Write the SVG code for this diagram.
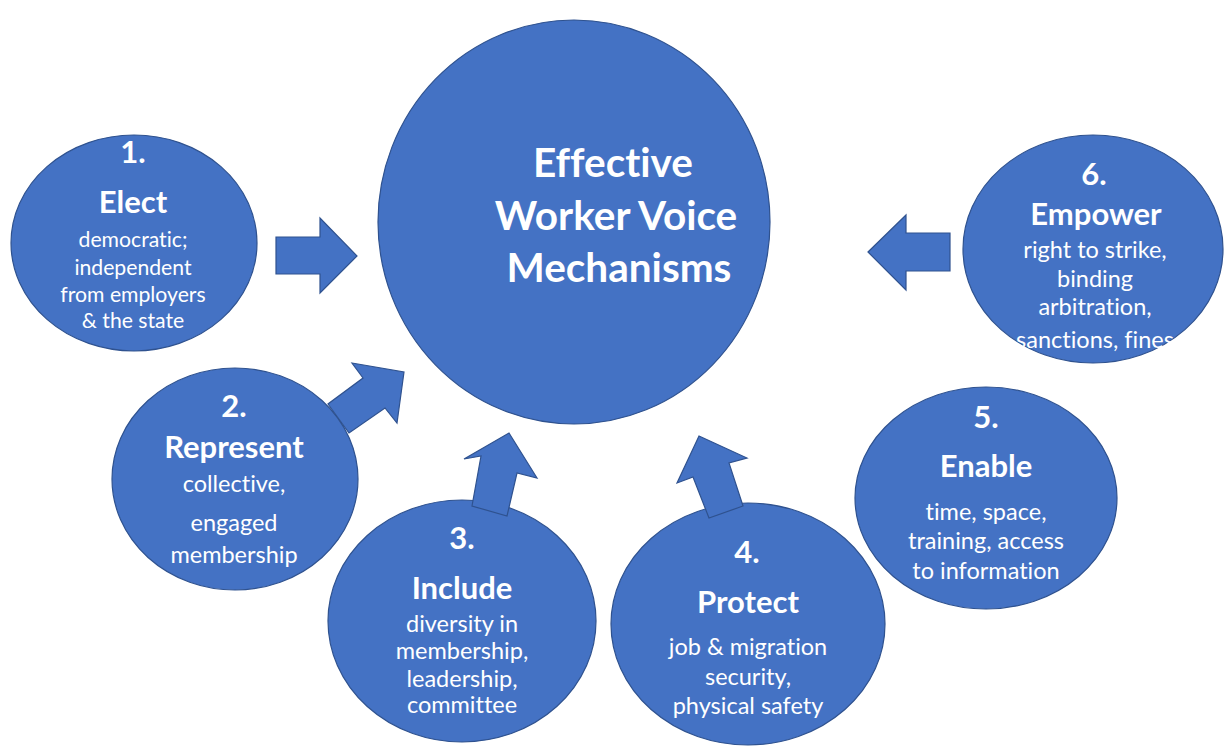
<svg xmlns="http://www.w3.org/2000/svg" width="1224" height="748" viewBox="0 0 1224 748">
<style>
.c{fill:#4472C4;stroke:#2F528F;stroke-width:1.2}
.a{fill:#4472C4;stroke:#2F528F;stroke-width:1.2;stroke-linejoin:miter}
text{font-family:Lato,"Open Sans","Liberation Sans",sans-serif;fill:#FFFFFF;text-anchor:middle;font-variant-ligatures:none}
.t{font-weight:bold;font-size:31px}
.b{font-size:23.5px}
.s{font-size:21.2px}
.m{font-weight:bold;font-size:40.5px}
</style>
<rect width="1224" height="748" fill="#FFFFFF"/>
<g id="center">
<ellipse class="c" cx="574" cy="222" rx="196" ry="202"/>
<text class="m" x="613" y="177">Effective</text>
<text class="m" x="616" y="230">Worker Voice</text>
<text class="m" x="619" y="282">Mechanisms</text>
</g>
<g id="n1">
<ellipse class="c" cx="134" cy="243" rx="123" ry="108"/>
<text class="t" x="133" y="163">1.</text>
<text class="t" x="133" y="213">Elect</text>
<text class="s" x="133" y="247">democratic;</text>
<text class="s" x="133" y="275">independent</text>
<text class="s" x="133" y="302">from employers</text>
<text class="s" x="133" y="328">&amp; the state</text>
</g>
<g id="n2">
<ellipse class="c" cx="235" cy="479" rx="123" ry="111"/>
<text class="t" x="234" y="417">2.</text>
<text class="t" x="234" y="458">Represent</text>
<text class="b" x="234" y="492">collective,</text>
<text class="b" x="234" y="531">engaged</text>
<text class="b" x="234" y="563">membership</text>
</g>
<g id="n3">
<ellipse class="c" cx="462" cy="621" rx="134" ry="121"/>
<text class="t" x="462" y="549">3.</text>
<text class="t" x="462" y="599">Include</text>
<text class="b" x="462" y="632">diversity in</text>
<text class="b" x="462" y="659">membership,</text>
<text class="b" x="462" y="687">leadership,</text>
<text class="b" x="462" y="713">committee</text>
</g>
<g id="n4">
<ellipse class="c" cx="748" cy="624" rx="137" ry="121"/>
<text class="t" x="747" y="563">4.</text>
<text class="t" x="748" y="613">Protect</text>
<text class="b" x="748" y="655">job &amp; migration</text>
<text class="b" x="748" y="685">security,</text>
<text class="b" x="748" y="714">physical safety</text>
</g>
<g id="n5">
<ellipse class="c" cx="986" cy="498" rx="131" ry="111"/>
<text class="t" x="986" y="428">5.</text>
<text class="t" x="986" y="477">Enable</text>
<text class="b" x="986" y="520">time, space,</text>
<text class="b" x="986" y="549">training, access</text>
<text class="b" x="986" y="579">to information</text>
</g>
<g id="n6">
<ellipse class="c" cx="1093" cy="249" rx="130" ry="114"/>
<text class="t" x="1094" y="185">6.</text>
<text class="t" x="1096" y="225">Empower</text>
<text class="b" x="1095" y="258">right to strike,</text>
<text class="b" x="1095" y="287">binding</text>
<text class="b" x="1095" y="315">arbitration,</text>
<text class="b" x="1095" y="348">sanctions, fines</text>
</g>
<g id="connectors">
<polygon class="a" points="276,237 320,237 320,218 357,256 320,293 320,274 276,274"/>
<polygon class="a" points="404,372 397,423 385,408 349,433 328,404 363,378 352,363"/>
<polygon class="a" points="509,433 537,478 517,473 507,516 472,506 481,456 464,459"/>
<polygon class="a" points="699,436 747,458 729,463 743,506 709,518 693,477 677,483"/>
<polygon class="a" points="868,252 906,215 906,233 950,233 950,271 906,271 906,290"/>
</g>
</svg>
